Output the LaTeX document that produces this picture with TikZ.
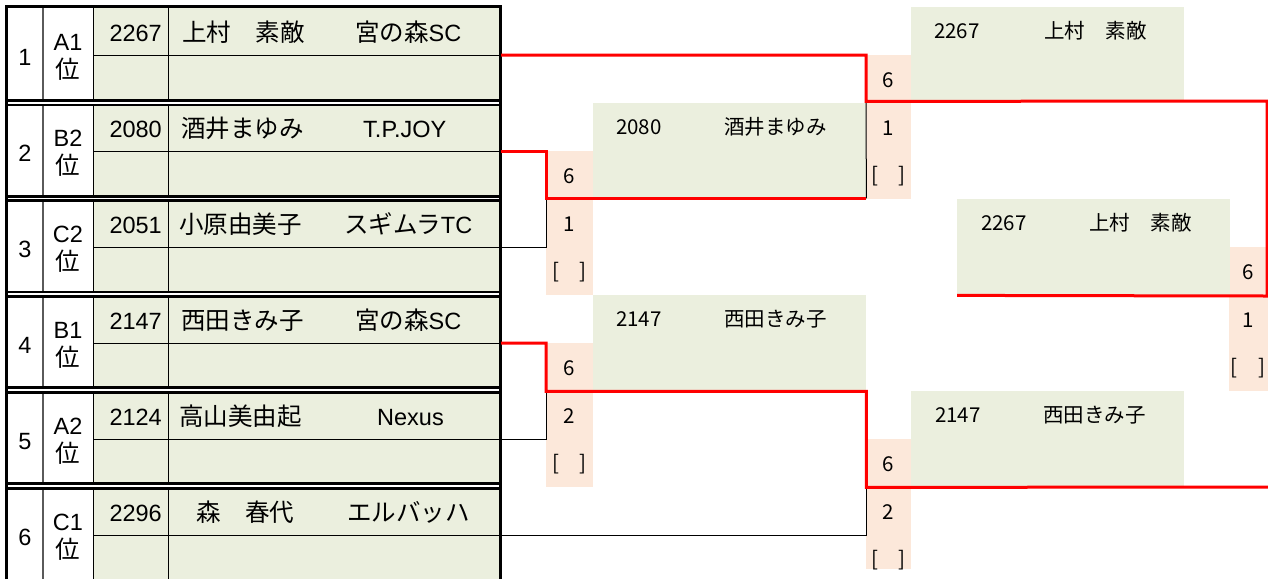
\documentclass[tikz,border=0pt]{standalone}
\usepackage{fontspec}
\setmainfont{Liberation Sans}
\newfontfamily\jp{Noto Sans CJK JP}
\definecolor{boxgreen}{RGB}{235,239,222}
\definecolor{scoreorange}{RGB}{252,232,218}
\definecolor{gridgray}{RGB}{90,90,90}
\newcommand{\tabfnt}{\fontsize{23.5}{26}\selectfont}
\newcommand{\tabjp}{\jp\fontsize{24.5}{26}\selectfont}
\newcommand{\brkfnt}{\jp\fontsize{20.5}{22}\selectfont}
\begin{document}
\begin{tikzpicture}[x=1pt,y=-1pt,
  tx/.style={inner sep=0pt,font=\tabfnt},
  bx/.style={inner sep=0pt,font=\brkfnt,anchor=base west},
  sx/.style={inner sep=0pt,font=\brkfnt,anchor=center},
  greenbox/.style={fill=boxgreen,draw=none,inner sep=0pt,anchor=north west,minimum width=273pt},
  scorebox/.style={fill=scoreorange,draw=none,inner sep=0pt,anchor=north west,minimum height=144pt},
  win/.style={draw=red,line width=3pt,line join=miter},
  lose/.style={draw=black,line width=1pt},
  thinblk/.style={draw=black,line width=1pt},
  thickblk/.style={draw=black,line width=2.8pt}]
\useasboundingbox (0,0) rectangle (1268,579);
\fill[white] (0,0) rectangle (1268,579);

% ---------- table ----------
\foreach \t/\b/\m in {6.3/100.3/55, 104.9/196.1/151, 200.7/291.9/247, 296.5/387.7/343, 392.3/483.5/439, 488.1/579/535}{
  \fill[boxgreen] (93,\t) rectangle (500,\b);
  \draw[draw=gridgray,line width=1.3pt] (43,\t) -- (43,\b);
  \draw[thinblk] (93,\t) -- (93,\b);
  \draw[thinblk] (168,\t) -- (168,\b);
  \draw[thinblk] (93,\m) -- (500,\m);
}
\foreach \a in {100.3,196.1,291.9,387.7,483.5}{
  \draw[thickblk] (5,\a) -- (502,\a);
  \draw[thickblk] (5,\a+4.6) -- (502,\a+4.6);
}
\draw[line width=3pt] (6,579) -- (6,6.3) -- (500.7,6.3) -- (500.7,579);

% row texts
\node[tx,anchor=base] (r1) at (25,65) {1};
\node[tx,anchor=base] (q1) at (68,50) {A1};
\node[tx,anchor=base] (w1) at (68,78.5) {\tabjp 位};
\node[tx,anchor=base east] (n1) at (162,41) {2267};
\node[tx,anchor=base west] (nm1) at (182,41) {\tabjp 上村　素敵};
\node[tx,anchor=base west] (c1) at (355,41) {{\tabjp 宮の森}SC};

\node[tx,anchor=base] (r2) at (25,161) {2};
\node[tx,anchor=base] (q2) at (68,146) {B2};
\node[tx,anchor=base] (w2) at (68,174.5) {\tabjp 位};
\node[tx,anchor=base east] (n2) at (162,137) {2080};
\node[tx,anchor=base west] (nm2) at (181,137) {\tabjp 酒井まゆみ};
\node[tx,anchor=base west] (c2) at (363,137) {T.P.JOY};

\node[tx,anchor=base] (r3) at (25,257) {3};
\node[tx,anchor=base] (q3) at (68,242) {C2};
\node[tx,anchor=base] (w3) at (68,270.5) {\tabjp 位};
\node[tx,anchor=base east] (n3) at (162,233) {2051};
\node[tx,anchor=base west] (nm3) at (179,233) {\tabjp 小原由美子};
\node[tx,anchor=base west] (c3) at (344,233) {{\tabjp スギムラ}TC};

\node[tx,anchor=base] (r4) at (25,353) {4};
\node[tx,anchor=base] (q4) at (68,338) {B1};
\node[tx,anchor=base] (w4) at (68,366.5) {\tabjp 位};
\node[tx,anchor=base east] (n4) at (162,329) {2147};
\node[tx,anchor=base west] (nm4) at (181,329) {\tabjp 西田きみ子};
\node[tx,anchor=base west] (c4) at (355,329) {{\tabjp 宮の森}SC};

\node[tx,anchor=base] (r5) at (25,449) {5};
\node[tx,anchor=base] (q5) at (68,434) {A2};
\node[tx,anchor=base] (w5) at (68,462.5) {\tabjp 位};
\node[tx,anchor=base east] (n5) at (162,425) {2124};
\node[tx,anchor=base west] (nm5) at (179,425) {\tabjp 高山美由起};
\node[tx,anchor=base west] (c5) at (377,425) {Nexus};

\node[tx,anchor=base] (r6) at (25,545) {6};
\node[tx,anchor=base] (q6) at (68,530) {C1};
\node[tx,anchor=base] (w6) at (68,558.5) {\tabjp 位};
\node[tx,anchor=base east] (n6) at (162,521) {2296};
\node[tx,anchor=base west] (nm6) at (196,521) {\tabjp 森　春代};
\node[tx,anchor=base west] (c6) at (347,521) {\tabjp エルバッハ};

% ---------- bracket boxes ----------
\node[scorebox,minimum width=47pt] (s1) at (546,151) {};
\node[scorebox,minimum width=47pt] (s2) at (546,343) {};
\node[scorebox,minimum width=45pt] (sA) at (866,55) {};
\node[scorebox,minimum width=45pt,minimum height=130pt] (sB) at (866,439) {};
\node[scorebox,minimum width=39pt] (sF) at (1229,247) {};

\node[greenbox,minimum height=95pt] (g1) at (593,103) {};
\node[greenbox,minimum height=96pt] (g2) at (593,295) {};
\node[greenbox,minimum height=94pt] (g3) at (911,7) {};
\node[greenbox,minimum height=96pt] (g4) at (911,391) {};
\node[greenbox,minimum height=96pt] (g5) at (957,199) {};

\node[bx] (g1n) at (616,134) {2080};
\node[bx] (g1m) at (724,134) {酒井まゆみ};
\node[bx] (g2n) at (616,326) {2147};
\node[bx] (g2m) at (724,326) {西田きみ子};
\node[bx] (g3n) at (934,38) {2267};
\node[bx] (g3m) at (1044,38) {上村　素敵};
\node[bx] (g4n) at (935,422) {2147};
\node[bx] (g4m) at (1043,422) {西田きみ子};
\node[bx] (g5n) at (981,230) {2267};
\node[bx] (g5m) at (1089,230) {上村　素敵};

% scores
\node[sx] (s1a) at (569.5,176) {6};
\node[sx] (s1b) at (569.5,224) {1};
\node[sx] (s1c) at (569.5,272) {[　]};
\node[sx] (s2a) at (569.5,368) {6};
\node[sx] (s2b) at (569.5,416) {2};
\node[sx] (s2c) at (569.5,464) {[　]};
\node[sx] (sAa) at (888.5,80) {6};
\node[sx] (sAb) at (888.5,128) {1};
\node[sx] (sAc) at (888.5,176) {[　]};
\node[sx] (sBa) at (888.5,464) {6};
\node[sx] (sBb) at (888.5,512) {2};
\node[sx] (sBc) at (888.5,560) {[　]};
\node[sx] (sFa) at (1248,272) {6};
\node[sx] (sFb) at (1248,320) {1};
\node[sx] (sFc) at (1248,368) {[　]};

% ---------- connectors ----------
\coordinate (p1) at (501,55);
\coordinate (p2) at (501,151);
\coordinate (p3) at (501,247);
\coordinate (p4) at (501,343);
\coordinate (p5) at (501,439);
\coordinate (p6) at (501,535);
\coordinate (rend) at (1268,487);

\draw[lose] (p3) -| (s1.west |- g1.south);
\draw[lose] (p5) -| (s2.west |- g2.south);
\draw[lose] (g1.south east) -- (sA.west |- g3.south);
\draw[lose] (p6) -| (g2.south east |- g4.south);

\draw[win] (p2) -| (s1.west |- g1.south) -- (g1.south east);
\draw[win] (p1) -| (sA.west |- g3.south) -- (1267,101) -- (1267,296) -- (g5.south west);
\draw[win] (p4) -| (s2.west |- g2.south) -- (g2.south east) -- (g2.south east |- g4.south) -- (rend);
\end{tikzpicture}
\end{document}
